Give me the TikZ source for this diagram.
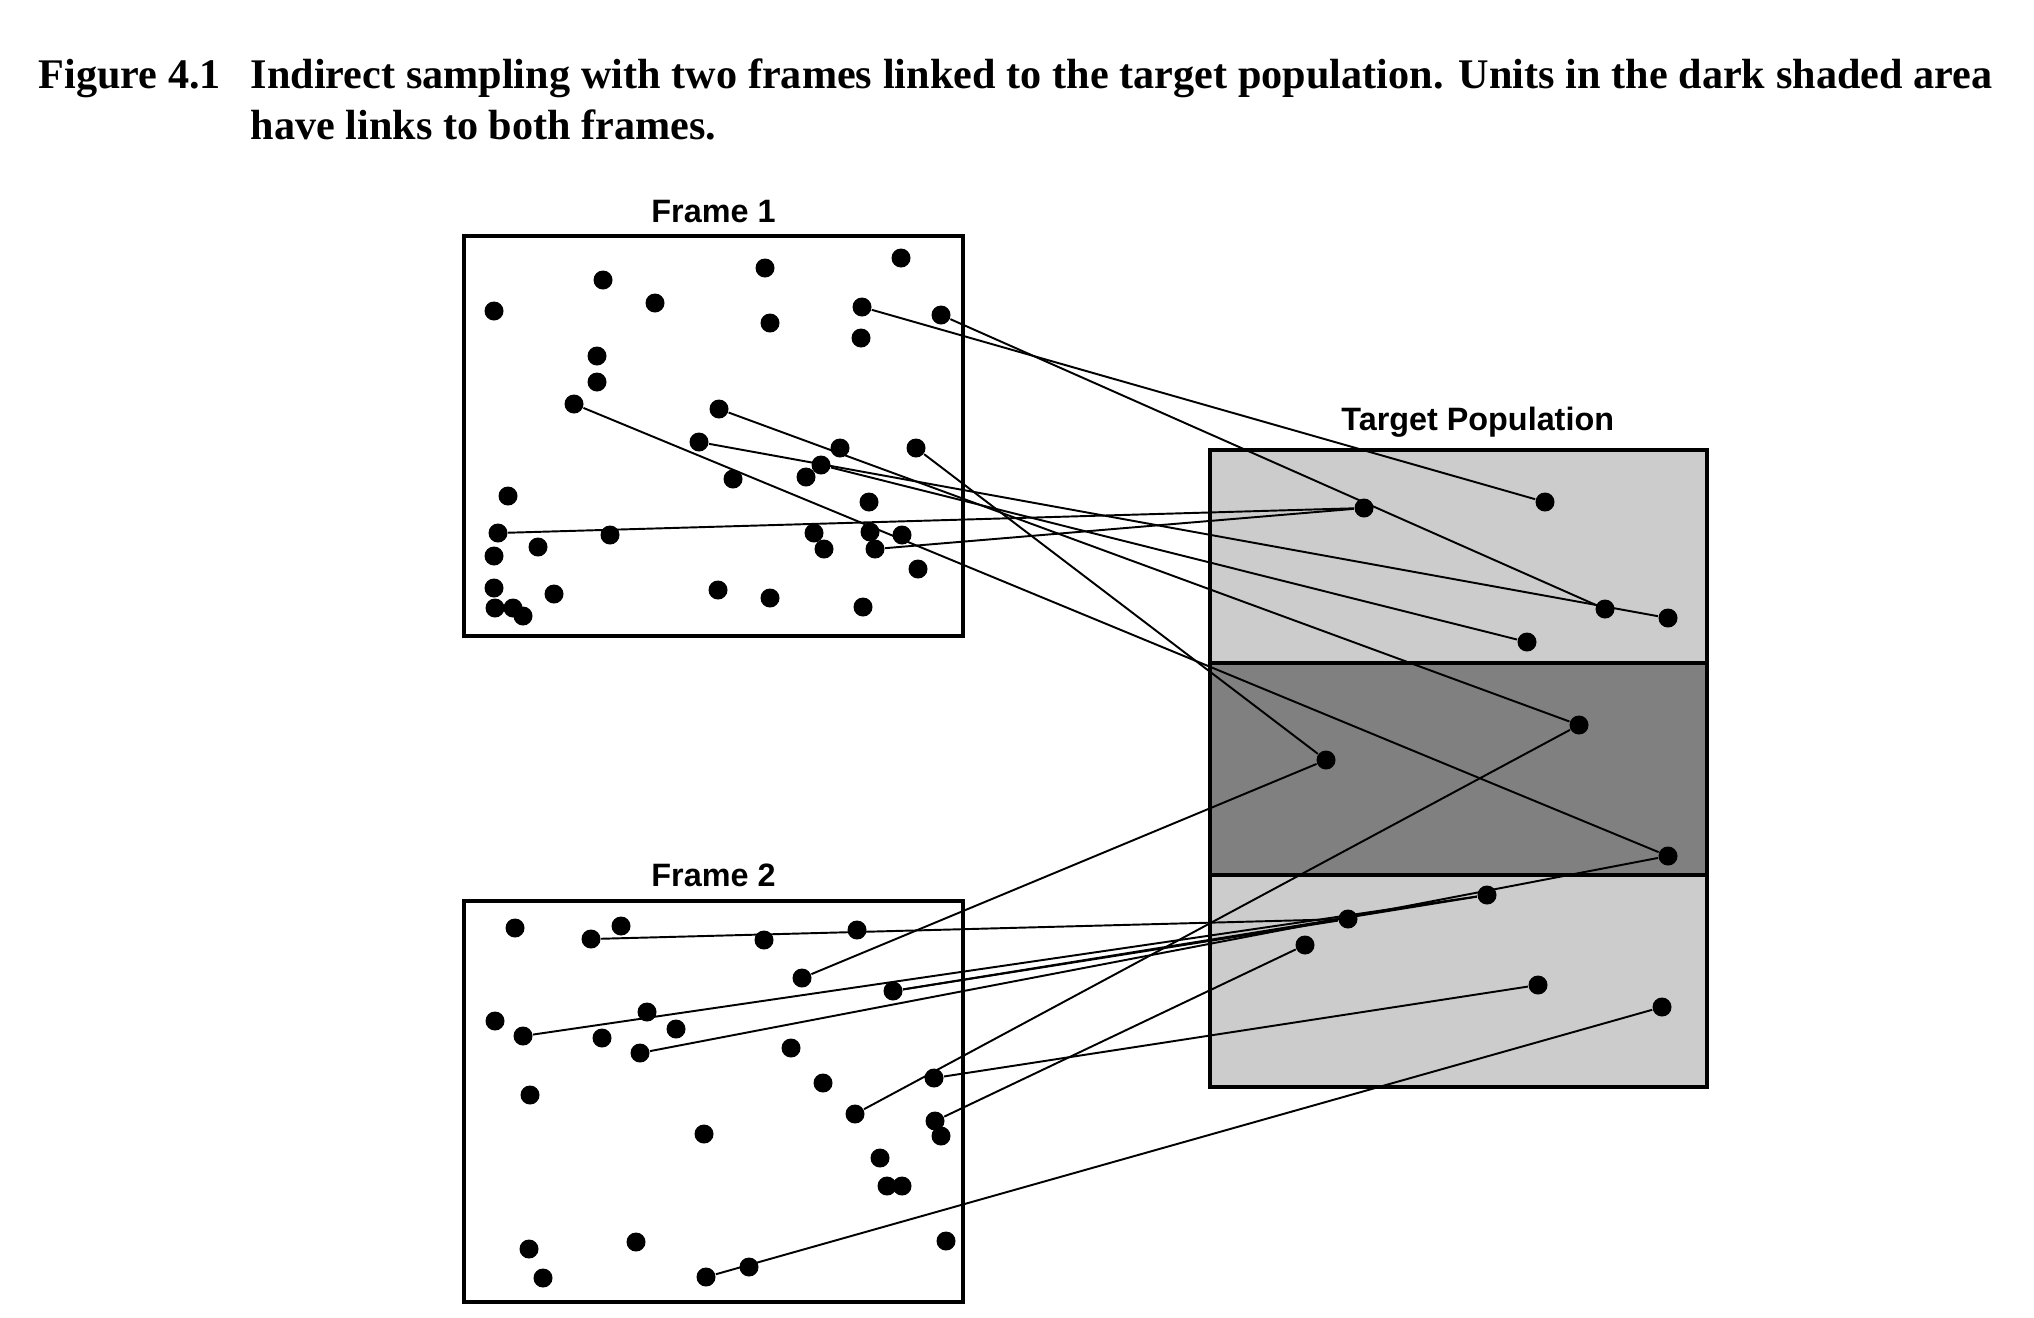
\documentclass[tikz,border=0pt]{standalone}
\usepackage{fontspec}
\setmainfont{Liberation Serif}
\newfontfamily\labelfont{Liberation Sans}
\usepackage{xcolor}
\definecolor{lightshade}{RGB}{204,204,204}
\definecolor{darkshade}{RGB}{128,128,128}
\usepackage{tikz}
\usetikzlibrary{positioning}

\begin{document}
\begin{tikzpicture}[
    x=0.01cm, y=-0.01cm,
    framebox/.style={
      rectangle, draw=black, line width=1.15pt, fill=white,
      minimum width=4.98cm, minimum height=4.0cm,
      inner sep=0pt, outer sep=0pt
    },
    band/.style={
      rectangle, draw=black, line width=1.15pt,
      minimum width=4.97cm, minimum height=2.123cm,
      inner sep=0pt, outer sep=0pt
    },
    unit/.style={circle, fill=black, inner sep=0pt, minimum size=0.19cm},
    link/.style={line width=0.55pt, color=black},
    framelabel/.style={font=\labelfont\bfseries\fontsize{9.2}{11}\selectfont, inner sep=0pt},
    captiontext/.style={font=\bfseries\fontsize{12}{14.5}\selectfont, inner sep=0pt}
  ]

  \useasboundingbox (0,0) rectangle (2034,1317);

  % Caption
  \node[captiontext, anchor=base west] (fignum) at (38,88) {Figure 4.1};
  \node[captiontext, anchor=base west] (figtext) at (250,88)
    {\makebox[17.41cm][s]{Indirect sampling with two frames linked to the target population. Units in the dark shaded area}};
  \node[captiontext, anchor=base west] (figtext2) at (250,139) {have links to both frames.};

  % Frames and target population
  \node[framebox] (frame1) at (713.5,435.9) {};
  \node[framebox] (frame2) at (713.5,1101.4) {};
  \node[band, fill=lightshade] (tgttop) at (1458.7,556.3) {};
  \node[band, fill=darkshade, below=0pt of tgttop] (tgtmid) {};
  \node[band, fill=lightshade, below=0pt of tgtmid] (tgtbot) {};

  \node[framelabel, above=0.12cm of frame1] (frame1label) {Frame 1};
  \node[framelabel, above=0.14cm of frame2] (frame2label) {Frame 2};
  \node[framelabel, above=0.125cm of tgttop, xshift=0.19cm] (targetlabel) {Target Population};

  % Units in frame 1
  \foreach \name/\x/\y in {fa1/494/311, fa2/603/280, fa3/655/303, fa4/765/268,
      fa5/901/258, fa6/770/323, fa7/862/307, fa8/941/315, fa9/861/338,
      fa10/597/356, fa11/597/382, fa12/574/404, fa13/719/409, fa14/699/442,
      fa15/840/448, fa16/916/448, fa17/821/465, fa18/806/477, fa19/733/479,
      fa20/508/496, fa21/869/502, fa22/498/533, fa23/610/535, fa24/814/533,
      fa25/870/532, fa26/902/535, fa27/824/549, fa28/875/549, fa29/538/547,
      fa30/494/556, fa31/918/569, fa32/494/588, fa33/554/594, fa34/718/590,
      fa35/770/598, fa36/863/607, fa37/495/608, fa38/513/608, fa39/523/616}
    \node[unit] (\name) at (\x,\y) {};

  % Units in frame 2
  \foreach \name/\x/\y in {fb1/515/928, fb2/591/939, fb3/621/926, fb4/764/940,
      fb5/857/930, fb6/802/978, fb7/893/991, fb8/647/1012, fb9/495/1021,
      fb10/523/1036, fb11/602/1038, fb12/676/1029, fb13/640/1053, fb14/791/1048,
      fb15/530/1095, fb16/823/1083, fb17/934/1078, fb18/855/1114, fb19/935/1121,
      fb20/941/1136, fb21/704/1134, fb22/880/1158, fb23/887/1186, fb24/902/1186,
      fb25/529/1249, fb26/636/1242, fb27/543/1278, fb28/706/1277, fb29/749/1267,
      fb30/946/1241}
    \node[unit] (\name) at (\x,\y) {};

  % Units in the target population
  \foreach \name/\x/\y in {t1/1364/508, t2/1545/502, t3/1605/609, t4/1668/618,
      t5/1527/642, t6/1579/725, t7/1326/760, t8/1668/856, t9/1487/895,
      t10/1348/919, t11/1305/945, t12/1538/985, t13/1662/1007}
    \node[unit] (\name) at (\x,\y) {};

  % Links from frame 1
  \draw[link] (fa7)  -- (t2);
  \draw[link] (fa8)  -- (t3);
  \draw[link] (fa22) -- (t1);
  \draw[link] (fa28) -- (t1);
  \draw[link] (fa14) -- (t4);
  \draw[link] (fa17) -- (t5);
  \draw[link] (fa13) -- (t6);
  \draw[link] (fa16) -- (t7);
  \draw[link] (fa12) -- (t8);

  % Links from frame 2
  \draw[link] (fb2)  -- (t10);
  \draw[link] (fb6)  -- (t7);
  \draw[link] (fb7)  -- (t9);
  \draw[link] (fb7)  -- (t10);
  \draw[link] (fb10) -- (t9);
  \draw[link] (fb13) -- (t8);
  \draw[link] (fb17) -- (t12);
  \draw[link] (fb18) -- (t6);
  \draw[link] (fb19) -- (t11);
  \draw[link] (fb28) -- (t13);

\end{tikzpicture}
\end{document}
